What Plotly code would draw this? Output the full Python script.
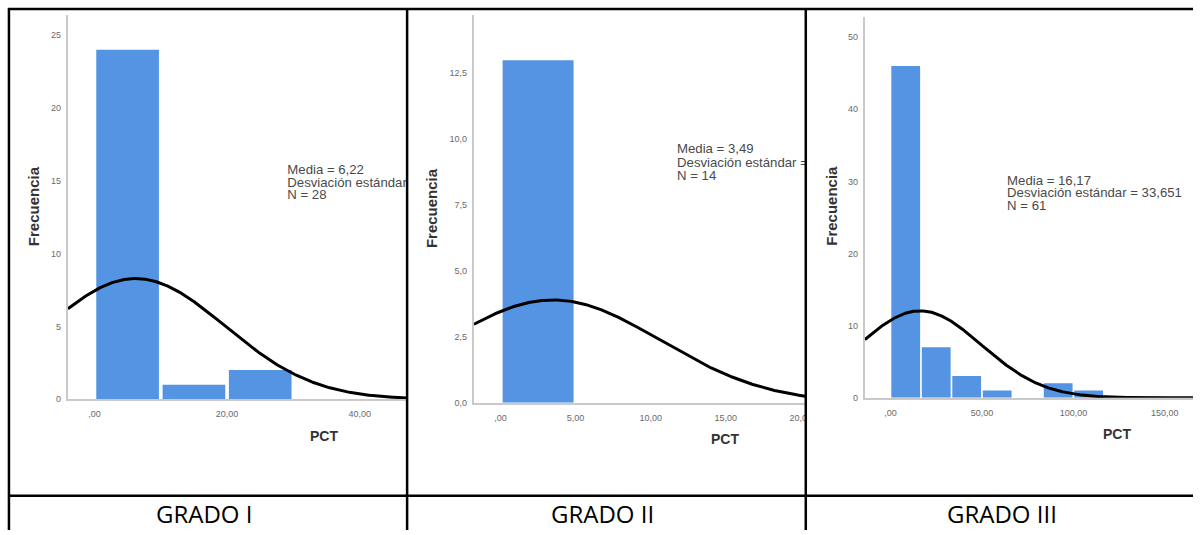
import numpy as np
import plotly.graph_objects as go

# ---------------- data ----------------
captions = ["GRADO I", "GRADO II", "GRADO III"]

g1_bin_start = [0, 10, 20]
g1_counts = [24, 1, 2]
g1_bin_width = 10
g1_mean, g1_sd, g1_n = 6.22, 13.48, 28

g2_bin_start = [0]
g2_counts = [13]
g2_bin_width = 5
g2_mean, g2_sd, g2_n = 3.49, 7.16, 14

g3_bin_start = [0, 16.667, 33.333, 50, 66.667, 83.333, 100]
g3_counts = [46, 7, 3, 1, 0, 2, 1]
g3_bin_width = 16.667
g3_mean, g3_sd, g3_n = 16.17, 33.651, 61

g1_yticks = [0, 5, 10, 15, 20, 25]
g1_ytext = ["0", "5", "10", "15", "20", "25"]
g1_xticks = [0, 20, 40]
g1_xtext = [",00", "20,00", "40,00"]

g2_yticks = [0, 2.5, 5, 7.5, 10, 12.5]
g2_ytext = ["0,0", "2,5", "5,0", "7,5", "10,0", "12,5"]
g2_xticks = [0, 5, 10, 15, 20]
g2_xtext = [",00", "5,00", "10,00", "15,00", "20,00"]

g3_yticks = [0, 10, 20, 30, 40, 50]
g3_ytext = ["0", "10", "20", "30", "40", "50"]
g3_xticks = [0, 50, 100, 150]
g3_xtext = [",00", "50,00", "100,00", "150,00"]

# ---------------- layout geometry (pixels) ----------------
W, H = 1200, 535
BLUE = "#5494e3"
FONT = "Liberation Sans, Arial, sans-serif"

panels = [
    dict(bins=g1_bin_start, counts=g1_counts, bw=g1_bin_width, mean=g1_mean, sd=g1_sd, n=g1_n,
         yt=g1_yticks, ytt=g1_ytext, xt=g1_xticks, xtt=g1_xtext,
         x0=95.0, xppu=6.67, left=68.3, right=409.5, y0=403.0, yppu=14.7, top=15.0,
         stat_x=289.0, stat_y=[172.0, 185.0, 198.0],
         ytitle=(33.3, 208.0), xtitle=(326.0, 440.5), cap_x=205.0),
    dict(bins=g2_bin_start, counts=g2_counts, bw=g2_bin_width, mean=g2_mean, sd=g2_sd, n=g2_n,
         yt=g2_yticks, ytt=g2_ytext, xt=g2_xticks, xtt=g2_xtext,
         x0=503.5, xppu=15.1, left=476.7, right=810.0, y0=406.5, yppu=26.6, top=15.0,
         stat_x=681.0, stat_y=[151.5, 165.0, 178.5],
         ytitle=(433.6, 210.0), xtitle=(729.0, 443.0), cap_x=606.0),
    dict(bins=g3_bin_start, counts=g3_counts, bw=g3_bin_width, mean=g3_mean, sd=g3_sd, n=g3_n,
         yt=g3_yticks, ytt=g3_ytext, xt=g3_xticks, xtt=g3_xtext,
         x0=895.7, xppu=1.84, left=870.0, right=1200.0, y0=401.5, yppu=7.28, top=17.0,
         stat_x=1013.0, stat_y=[183.0, 196.0, 209.0],
         ytitle=(835.6, 208.0), xtitle=(1124.0, 438.5), cap_x=1008.0),
]


def fmt(v, d):
    return f"{v:.{d}f}".replace(".", ",")


fig = go.Figure()
annotations = []
layout_axes = {}

for i, p in enumerate(panels):
    k = "" if i == 0 else str(i + 1)
    xa, ya = "x" + k, "y" + k
    xr = [(p["left"] - p["x0"]) / p["xppu"], (p["right"] - p["x0"]) / p["xppu"]]
    yr = [0, (p["y0"] - p["top"]) / p["yppu"]]

    # histogram bars
    centers = [b + p["bw"] / 2 for b in p["bins"]]
    fig.add_trace(go.Bar(x=centers, y=p["counts"], width=p["bw"] * 0.945,
                         marker=dict(color=BLUE, line=dict(width=0)),
                         xaxis=xa, yaxis=ya, showlegend=False, hoverinfo="skip"))

    # fitted normal curve from the displayed statistics
    xs = np.linspace(xr[0], xr[1], 400)
    peak = p["n"] * p["bw"] / (p["sd"] * np.sqrt(2 * np.pi))
    ys = peak * np.exp(-0.5 * ((xs - p["mean"]) / p["sd"]) ** 2)
    fig.add_trace(go.Scatter(x=xs, y=ys, mode="lines", line=dict(color="black", width=3),
                             xaxis=xa, yaxis=ya, showlegend=False, hoverinfo="skip"))

    # statistics text (clipped by the plot area like the cropped original)
    stat_lines = [f"Media = {fmt(p['mean'], 2)}",
                  f"Desviación estándar = {fmt(p['sd'], 3)}",
                  f"N = {p['n']}"]
    sx = (p["stat_x"] - p["x0"]) / p["xppu"]
    sy = [(p["y0"] - v) / p["yppu"] for v in p["stat_y"]]
    fig.add_trace(go.Scatter(x=[sx] * 3, y=sy, mode="text", text=stat_lines,
                             textposition="middle right",
                             textfont=dict(family=FONT, size=13.2, color="#4a4a4a"),
                             cliponaxis=True, xaxis=xa, yaxis=ya,
                             showlegend=False, hoverinfo="skip"))

    axis_common = dict(showgrid=False, zeroline=False, showline=True,
                       linecolor="#c9c9c9", linewidth=2, ticks="",
                       tickfont=dict(family=FONT, size=9, color="#6a6a6a"),
                       fixedrange=True)
    layout_axes["xaxis" + k] = dict(axis_common, domain=[p["left"] / W, p["right"] / W],
                                    range=xr, anchor=ya, tickmode="array",
                                    tickvals=p["xt"], ticktext=p["xtt"],
                                    ticklabelstandoff=5)
    layout_axes["yaxis" + k] = dict(axis_common, domain=[1 - p["y0"] / H, 1 - p["top"] / H],
                                    range=yr, anchor=xa, tickmode="array",
                                    tickvals=p["yt"], ticktext=p["ytt"],
                                    ticklabelstandoff=3)

    annotations.append(dict(text="<b>Frecuencia</b>", x=p["ytitle"][0] / W, y=1 - p["ytitle"][1] / H,
                            xref="paper", yref="paper", showarrow=False, textangle=-90,
                            font=dict(family=FONT, size=15, color="#333333"),
                            xanchor="center", yanchor="middle"))
    annotations.append(dict(text="<b>PCT</b>", x=p["xtitle"][0] / W, y=1 - p["xtitle"][1] / H,
                            xref="paper", yref="paper", showarrow=False,
                            font=dict(family=FONT, size=14, color="#333333"),
                            xanchor="center", yanchor="middle"))
    annotations.append(dict(text=captions[i], x=p["cap_x"] / W, y=1 - 518.0 / H,
                            xref="paper", yref="paper", showarrow=False,
                            font=dict(family="Open Sans, sans-serif", size=24, color="black"),
                            xanchor="center", yanchor="middle"))

# table borders
shapes = [
    # mask for the tick label cut at the cell border
    dict(type="rect", xref="paper", yref="paper", x0=811 / W, x1=826 / W,
         y0=1 - 426 / H, y1=1 - 406 / H, fillcolor="white", line=dict(width=0), layer="above"),
]
line_style = dict(color="black", width=2.5)
for (x0, y0, x1, y1) in [(8, 9, 1200, 9), (9, 8, 9, 535), (409.5, 8, 409.5, 535),
                         (810.5, 8, 810.5, 535), (8, 500.5, 1200, 500.5)]:
    shapes.append(dict(type="line", xref="paper", yref="paper",
                       x0=x0 / W, x1=x1 / W, y0=1 - y0 / H, y1=1 - y1 / H,
                       line=line_style, layer="above"))

fig.update_layout(width=W, height=H, margin=dict(l=0, r=0, t=0, b=0),
                  paper_bgcolor="white", plot_bgcolor="white",
                  annotations=annotations, shapes=shapes, barmode="overlay",
                  **layout_axes)

fig.write_html("out.html", config={"displayModeBar": False},
               post_script="document.body.style.margin='0';document.body.style.overflow='hidden';")
